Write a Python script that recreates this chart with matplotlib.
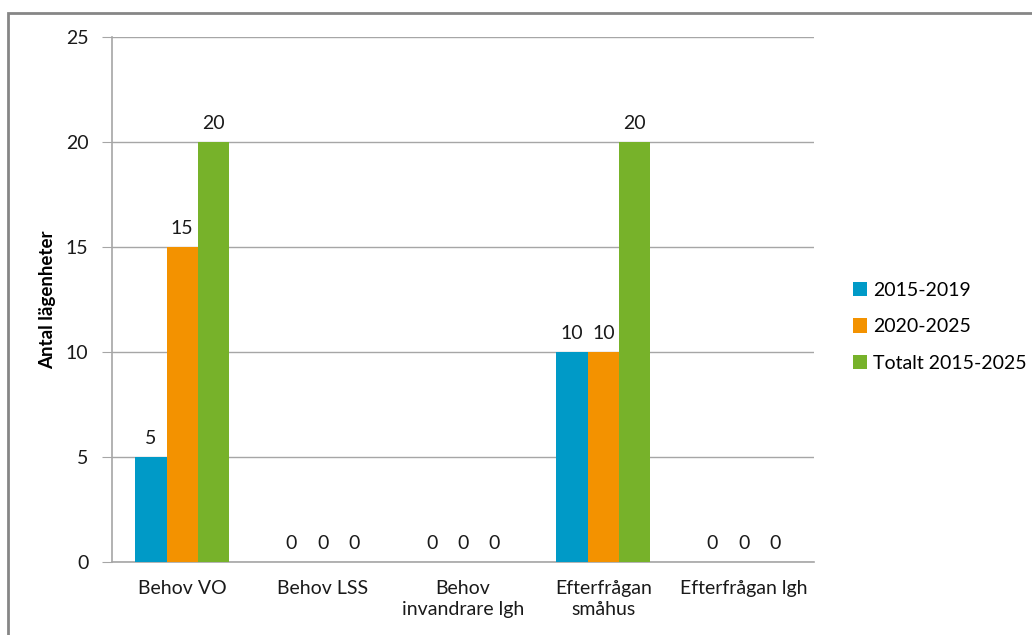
import matplotlib.pyplot as plt
import numpy as np
from matplotlib.patches import Rectangle

plt.rcParams['font.family'] = ['Lato', 'DejaVu Sans']

# data
categories = ["Behov VO", "Behov LSS", "Behov\ninvandrare lgh", "Efterfrågan\nsmåhus", "Efterfrågan lgh"]
series_names = ["2015-2019", "2020-2025", "Totalt 2015-2025"]
v_2015_2019 = [5, 0, 0, 10, 0]
v_2020_2025 = [15, 0, 0, 10, 0]
v_totalt = [20, 0, 0, 20, 0]
colors = ["#009AC7", "#F39200", "#77B22A"]

fig = plt.figure(figsize=(10.32, 6.35), dpi=100)
ax = fig.add_axes([112/1032, 1 - 562/635, (814 - 112)/1032, (562 - 37)/635])

# outer frame (runs off the right and bottom edges like the original)
fig.patches.append(Rectangle((8/1032, -0.1), 1.2, 1.1 - 13/635, transform=fig.transFigure,
                             fill=False, edgecolor="#868686", linewidth=2))

x = np.arange(len(categories))
w = 0.223
fs = 14
txt = "#1a1a1a"
grid_color = "#A6A6A6"
for i, (vals, name) in enumerate(zip([v_2015_2019, v_2020_2025, v_totalt], series_names)):
    bars = ax.bar(x + (i - 1) * w, vals, w, color=colors[i], label=name, zorder=3)
    ax.bar_label(bars, labels=[str(v) for v in vals], padding=7, fontsize=fs, color=txt)

ax.set_ylim(0, 25)
ax.set_xlim(-0.5, len(categories) - 0.5)
ax.set_yticks([0, 5, 10, 15, 20, 25])
ax.set_xticks(x)
ax.set_xticklabels(categories, fontsize=fs, color=txt, linespacing=1.25)
ax.tick_params(axis='x', length=0, pad=13)
ax.tick_params(axis='y', length=7, color=grid_color, labelsize=fs, labelcolor=txt, pad=10)
ax.yaxis.grid(True, color=grid_color, linewidth=1, zorder=0)
for s in ["top", "right"]:
    ax.spines[s].set_visible(False)
for s in ["left", "bottom"]:
    ax.spines[s].set_color(grid_color)
    ax.spines[s].set_linewidth(1.2)

ax.set_ylabel("Antal lägenheter", fontsize=13.5, fontweight="bold")
ax.yaxis.set_label_coords(-0.08, 0.5)

ax.legend(loc="center left", bbox_to_anchor=(1.03, 0.448), frameon=False, fontsize=fs,
          handlelength=0.75, handleheight=0.75, handletextpad=0.3, labelspacing=1.0)

fig.savefig("out.png", dpi=100)
